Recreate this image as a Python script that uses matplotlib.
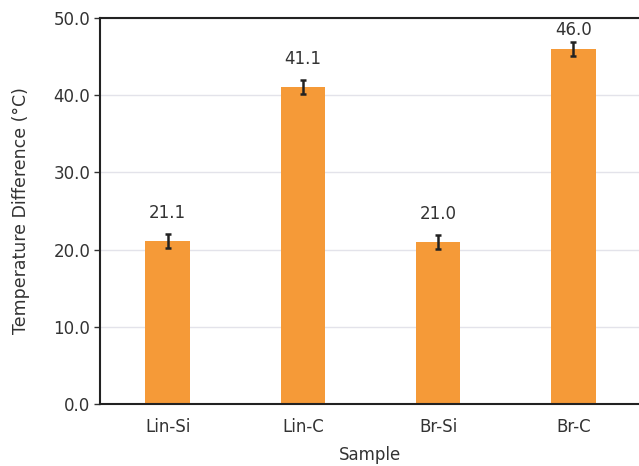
import matplotlib
matplotlib.use("Agg")
import matplotlib.pyplot as plt
import numpy as np

categories = ["Lin-Si", "Lin-C", "Br-Si", "Br-C"]
values = [21.1, 41.1, 21.0, 46.0]
errors = [0.9, 0.9, 0.9, 0.9]
yticks = [0, 10, 20, 30, 40, 50]

plt.rcParams['font.family'] = ['DejaVu Sans']

fig = plt.figure(figsize=(6.39, 4.66), dpi=100)
ax = fig.add_axes([100/639, (466-404)/466, 541/639, (404-18)/466])

x = np.arange(len(categories))
ax.bar(x, values, width=0.33, color="#F59A38", zorder=2)
ax.errorbar(x, values, yerr=errors, fmt='none', ecolor="#222222",
            elinewidth=1.8, capsize=2.3, capthick=1.8, zorder=3)

for xi, v in zip(x, values):
    ty = min(v + 3.6, 48.4)
    ax.text(xi, ty, f"{v:.1f}", ha='center', va='center', fontsize=12, color="#333333")

ax.set_xlim(-0.5, 3.5)
ax.set_ylim(0, 50)
ax.set_yticks(yticks)
ax.set_yticklabels([f"{t:.1f}" for t in yticks], fontsize=12, color="#333333")
ax.set_xticks(x)
ax.set_xticklabels(categories, fontsize=12, color="#333333")
ax.tick_params(axis='x', length=0, pad=10)
ax.tick_params(axis='y', length=4, width=1, color="#333333", pad=3)
ax.yaxis.grid(True, color="#e3e3ea", linewidth=1, zorder=0)
ax.set_axisbelow(True)

for s in ['left', 'top', 'bottom']:
    ax.spines[s].set_color("#222222")
    ax.spines[s].set_linewidth(1.5)
ax.spines['right'].set_visible(False)

ax.set_ylabel("Temperature Difference (°C)", fontsize=12.5, color="#333333", labelpad=17)
ax.set_xlabel("Sample", fontsize=12, color="#333333", labelpad=7)

fig.savefig("out.png", dpi=100)
